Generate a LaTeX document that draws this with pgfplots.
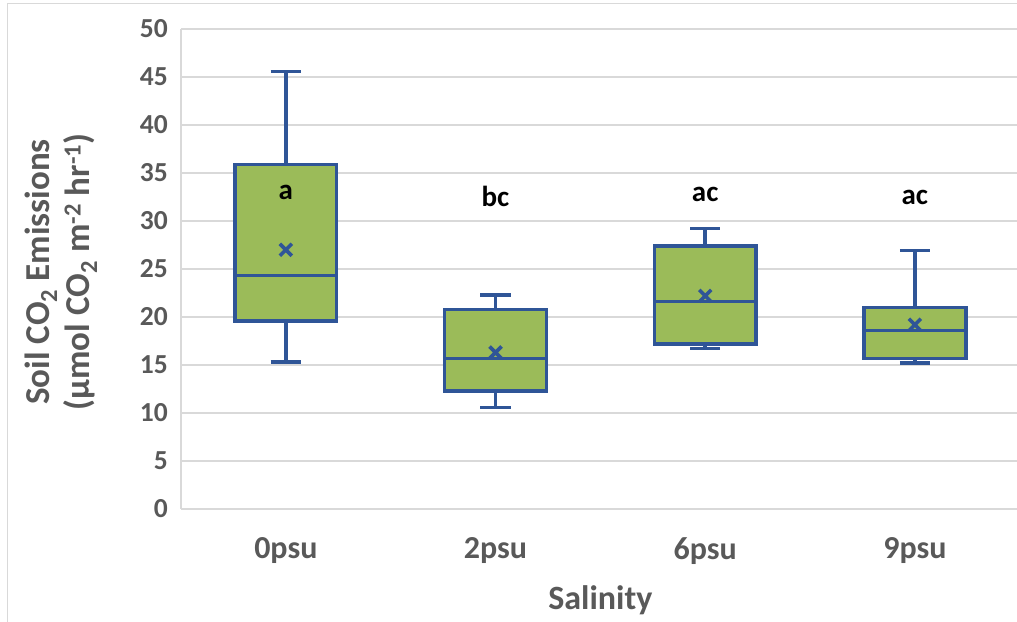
\documentclass[border=0pt]{standalone}
\usepackage{pgfplots}
\pgfplotsset{compat=1.18}
\usepackage{fontspec}
\setmainfont{Carlito}

\definecolor{boxblue}{HTML}{2F5597}
\definecolor{boxgreen}{HTML}{9BBB59}
\definecolor{labelgray}{HTML}{595959}
\definecolor{gridgray}{HTML}{D9D9D9}

% Box half-width and whisker-cap half-width (in category units)
\def\bw{0.243}
\def\cw{0.072}

\begin{document}
\begin{tikzpicture}
  % outer chart frame
  \draw[gridgray, line width=1pt] (7pt,-30pt) rectangle (1060pt,617pt);
  \begin{axis}[
    at={(181pt,112pt)}, anchor=south west,
    scale only axis, width=838.7pt, height=480pt,
    xmin=-0.5, xmax=3.5, ymin=0, ymax=50,
    xtick={0,1,2,3},
    xticklabels={0psu,2psu,6psu,9psu},
    ytick={0,5,...,50},
    ymajorgrids, grid style={gridgray, line width=1.2pt},
    axis x line=bottom, axis y line=left,
    axis line style={gridgray, line width=1.2pt, -},
    major tick length=0pt,
    /pgf/number format/assume math mode=true,
    yticklabel style={font=\fontsize{27.5}{30}\selectfont\bfseries, text=labelgray,
      anchor=east, inner sep=0pt, xshift=-13pt},
    xticklabel style={font=\fontsize{32}{36}\selectfont\bfseries, text=labelgray,
      anchor=north, inner sep=0pt, yshift=-28pt},
    xlabel={Salinity},
    xlabel style={font=\fontsize{34}{38}\selectfont\bfseries, text=labelgray,
      at={(axis description cs:0.5,-0.19)}, anchor=center},
    ylabel={Soil CO\textsubscript{2} Emissions\\(µmol CO\textsubscript{2} m\textsuperscript{-2} hr\textsuperscript{-1})},
    ylabel style={font=\fontsize{35}{40}\selectfont\bfseries, text=labelgray,
      align=center, at={(axis description cs:-0.143,0.494)}, anchor=center},
    unbounded coords=jump,
    boxline/.style={draw=boxblue, line width=3.4pt, solid, mark=none},
  ]
    % whiskers and caps (lower whisker, Q1, Q3, upper whisker per group)
    % 0psu: 15.3 / 19.6 / 35.9 / 45.6
    % 2psu: 10.6 / 12.3 / 20.8 / 22.3
    % 6psu: 16.7 / 17.2 / 27.4 / 29.2
    % 9psu: 15.2 / 15.7 / 21.0 / 26.9
    \addplot[boxline] coordinates {
      (0,35.9) (0,45.6) (nan,nan) (-\cw,45.6) (\cw,45.6) (nan,nan)
      (0,19.6) (0,15.3) (nan,nan) (-\cw,15.3) (\cw,15.3) (nan,nan)
      (1,20.8) (1,22.3) (nan,nan) (1-\cw,22.3) (1+\cw,22.3) (nan,nan)
      (1,12.3) (1,10.6) (nan,nan) (1-\cw,10.6) (1+\cw,10.6) (nan,nan)
      (2,27.4) (2,29.2) (nan,nan) (2-\cw,29.2) (2+\cw,29.2) (nan,nan)
      (2,17.2) (2,16.7) (nan,nan) (2-\cw,16.7) (2+\cw,16.7) (nan,nan)
      (3,21.0) (3,26.9) (nan,nan) (3-\cw,26.9) (3+\cw,26.9) (nan,nan)
      (3,15.7) (3,15.2) (nan,nan) (3-\cw,15.2) (3+\cw,15.2)
    };
    % interquartile boxes
    \addplot[boxline, fill=boxgreen] coordinates {
      (-\bw,19.6) (\bw,19.6) (\bw,35.9) (-\bw,35.9)} -- cycle;
    \addplot[boxline, fill=boxgreen] coordinates {
      (1-\bw,12.3) (1+\bw,12.3) (1+\bw,20.8) (1-\bw,20.8)} -- cycle;
    \addplot[boxline, fill=boxgreen] coordinates {
      (2-\bw,17.2) (2+\bw,17.2) (2+\bw,27.4) (2-\bw,27.4)} -- cycle;
    \addplot[boxline, fill=boxgreen] coordinates {
      (3-\bw,15.7) (3+\bw,15.7) (3+\bw,21.0) (3-\bw,21.0)} -- cycle;
    % medians
    \addplot[boxline] coordinates {
      (-\bw,24.3) (\bw,24.3) (nan,nan)
      (1-\bw,15.7) (1+\bw,15.7) (nan,nan)
      (2-\bw,21.6) (2+\bw,21.6) (nan,nan)
      (3-\bw,18.6) (3+\bw,18.6)
    };
    % means
    \addplot[only marks, mark=x, mark size=8.5pt,
      mark options={draw=boxblue, line width=3.6pt, solid}] coordinates {
      (0,27.0) (1,16.3) (2,22.2) (3,19.2)
    };

    % significance letters (placed on their baselines)
    \begin{scope}[every node/.style={font=\fontsize{29}{32}\selectfont\bfseries,
        text=black, anchor=base, inner sep=0pt}]
      \node at (axis cs:0,32.2) {a};
      \node at (axis cs:1,31.5) {bc};
      \node at (axis cs:2,32.0) {ac};
      \node at (axis cs:3,31.7) {ac};
    \end{scope}
  \end{axis}
  \pgfresetboundingbox
  \useasboundingbox (0,0) rectangle (1017pt,621pt);
\end{tikzpicture}
\end{document}
